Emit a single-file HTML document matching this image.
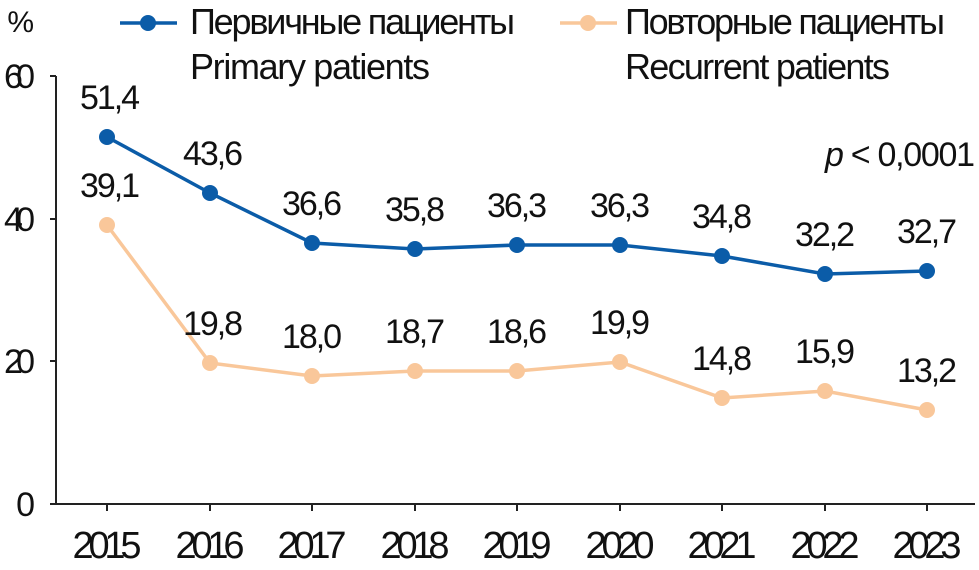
<!DOCTYPE html>
<html><head><meta charset="utf-8"><style>body{margin:0;background:#fff}svg{display:block}text{font-family:"Liberation Sans Narrow","Liberation Sans",sans-serif;fill:#111}</style></head><body>
<svg width="979" height="570" viewBox="0 0 979 570">
<g stroke="#222" stroke-width="2" fill="none">
<path d="M56,76 V504 H975"/>
<path d="M50,76H56M50,219H56M50,361H56M50,504H56"/>
<path d="M107,504v7M210,504v7M312,504v7M415,504v7M517,504v7M620,504v7M722,504v7M825,504v7M927,504v7"/>
</g>
<g font-size="34" text-anchor="end">
<text x="35" y="88" textLength="31">60</text><text x="35" y="231" textLength="31">40</text><text x="35" y="373" textLength="31">20</text><text x="35" y="516" textLength="16">0</text>
<text x="34" y="32" font-size="30" textLength="22">%</text>
</g>
<g font-size="38" text-anchor="middle">
<text x="107" y="558" textLength="69">2015</text><text x="210" y="558" textLength="69">2016</text><text x="312" y="558" textLength="69">2017</text><text x="415" y="558" textLength="69">2018</text><text x="517" y="558" textLength="69">2019</text><text x="620" y="558" textLength="69">2020</text><text x="722" y="558" textLength="69">2021</text><text x="825" y="558" textLength="69">2022</text><text x="927" y="558" textLength="69">2023</text>
</g>
<polyline fill="none" stroke="#f9c79a" stroke-width="3.5" points="107,225 210,363 312,376 415,371 517,371 620,362 722,398 825,391 927,410"/>
<g fill="#f9c79a"><circle cx="107" cy="225" r="8"/><circle cx="210" cy="363" r="8"/><circle cx="312" cy="376" r="8"/><circle cx="415" cy="371" r="8"/><circle cx="517" cy="371" r="8"/><circle cx="620" cy="362" r="8"/><circle cx="722" cy="398" r="8"/><circle cx="825" cy="391" r="8"/><circle cx="927" cy="410" r="8"/></g>
<polyline fill="none" stroke="#0b5ca8" stroke-width="3.5" points="107,137 210,193 312,243 415,249 517,245 620,245 722,256 825,274 927,271"/>
<g fill="#0b5ca8"><circle cx="107" cy="137" r="8"/><circle cx="210" cy="193" r="8"/><circle cx="312" cy="243" r="8"/><circle cx="415" cy="249" r="8"/><circle cx="517" cy="245" r="8"/><circle cx="620" cy="245" r="8"/><circle cx="722" cy="256" r="8"/><circle cx="825" cy="274" r="8"/><circle cx="927" cy="271" r="8"/></g>
<g font-size="34" text-anchor="middle">
<text x="110" y="109" textLength="60">51,4</text><text x="213" y="165" textLength="60">43,6</text><text x="312" y="215" textLength="60">36,6</text><text x="415" y="221" textLength="60">35,8</text><text x="517" y="217" textLength="60">36,3</text><text x="620" y="217" textLength="60">36,3</text><text x="722" y="228" textLength="60">34,8</text><text x="825" y="246" textLength="60">32,2</text><text x="927" y="243" textLength="60">32,7</text>
<text x="110" y="197" textLength="60">39,1</text><text x="213" y="335" textLength="60">19,8</text><text x="312" y="348" textLength="60">18,0</text><text x="415" y="343" textLength="60">18,7</text><text x="517" y="343" textLength="60">18,6</text><text x="620" y="334" textLength="60">19,9</text><text x="722" y="370" textLength="60">14,8</text><text x="825" y="363" textLength="60">15,9</text><text x="927" y="382" textLength="60">13,2</text>
</g>
<text x="975" y="166" font-size="34" text-anchor="end" textLength="150"><tspan font-style="italic">p</tspan> &lt; 0,0001</text>
<line x1="120" y1="23" x2="177" y2="23" stroke="#0b5ca8" stroke-width="3.5"/><circle cx="148" cy="23" r="8" fill="#0b5ca8"/>
<text x="190" y="34" font-size="36" textLength="325">Первичные пациенты</text>
<text x="190" y="79" font-size="36" textLength="240">Primary patients</text>
<line x1="560" y1="23" x2="617" y2="23" stroke="#f9c79a" stroke-width="3.5"/><circle cx="588" cy="23" r="8" fill="#f9c79a"/>
<text x="625" y="34" font-size="36" textLength="320">Повторные пациенты</text>
<text x="625" y="79" font-size="36" textLength="265">Recurrent patients</text>
</svg>
</body></html>
